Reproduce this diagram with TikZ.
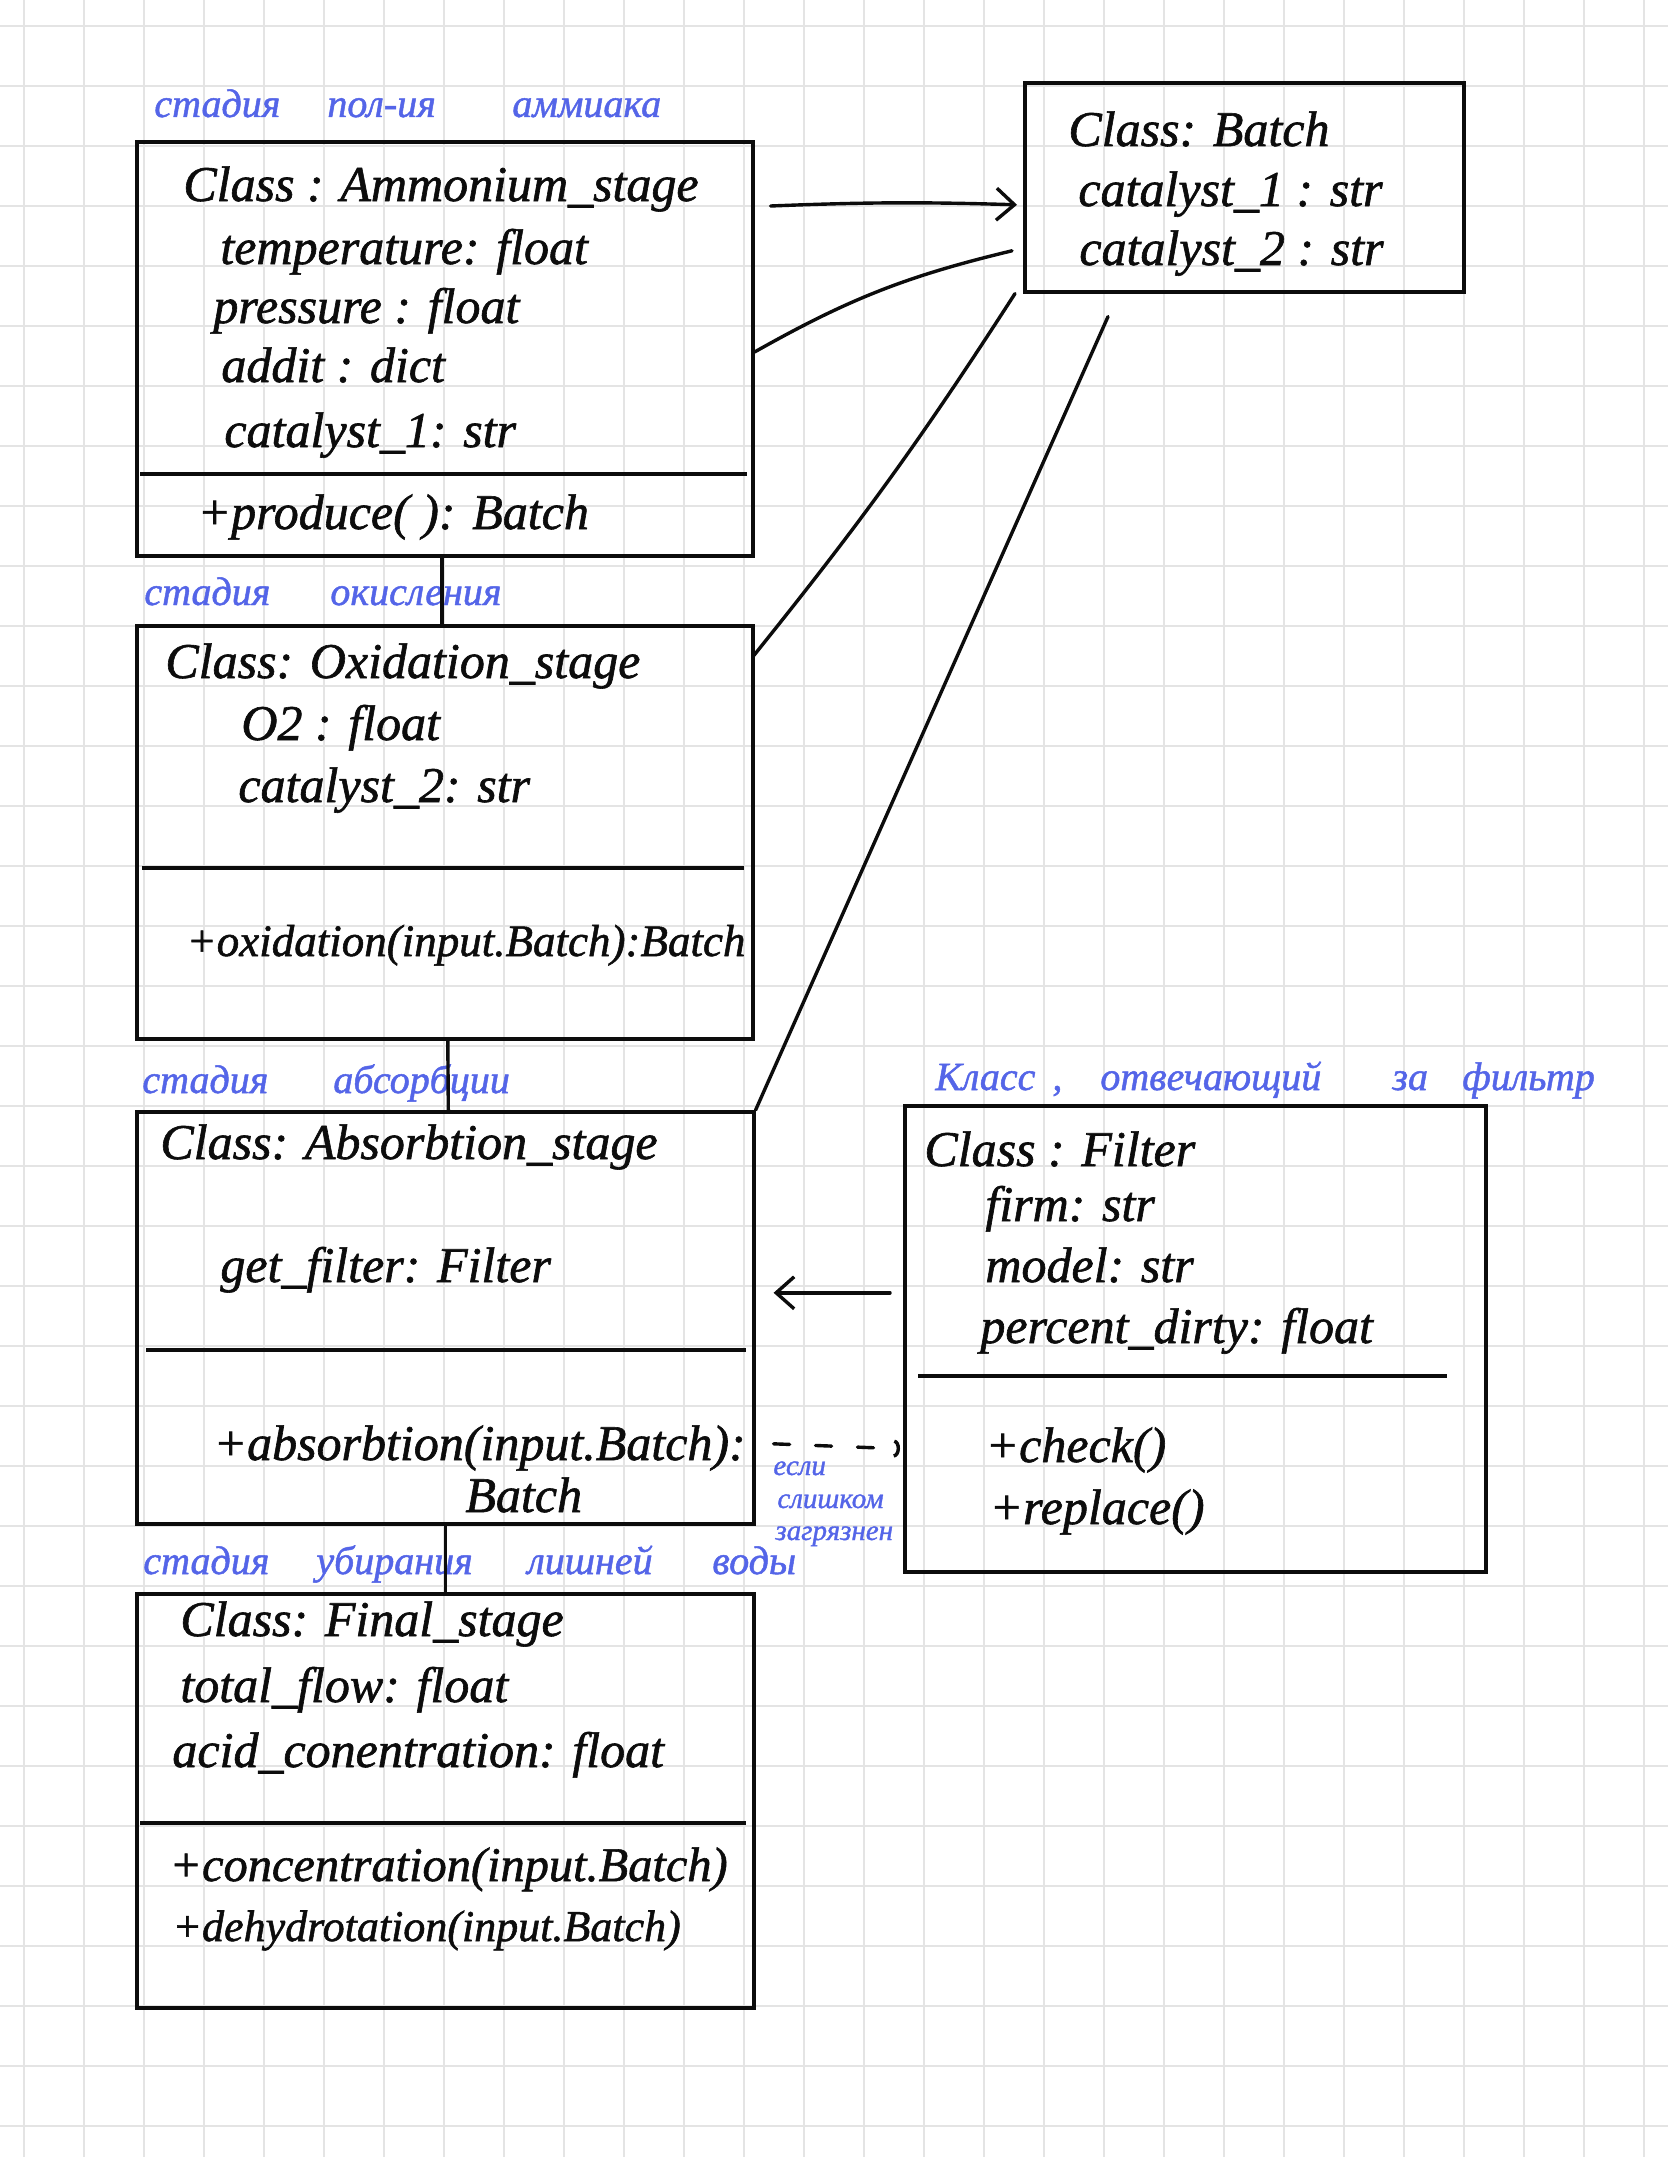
\documentclass[tikz,border=0pt]{standalone}
\usepackage{fontspec}
\setmainfont{Liberation Serif}[ItalicFeatures={FakeBold=1.2}]
\usetikzlibrary{arrows.meta,calc}
\definecolor{ink}{RGB}{12,12,12}
\definecolor{pen}{RGB}{84,101,232}
\definecolor{gridc}{RGB}{228,228,228}
\begin{document}
\begin{tikzpicture}[x=0.5pt,y=-0.5pt,
  classbox/.style={draw=ink,line width=1.8pt,anchor=north west,inner sep=0pt},
  rule/.style={draw=ink,line width=1.7pt},
  txt/.style={anchor=base west,inner sep=0pt,font=\fontsize{25}{30}\selectfont\itshape,text=ink},
  note/.style={anchor=base west,inner sep=0pt,font=\fontsize{20}{24}\selectfont\itshape,text=pen},
  tiny/.style={anchor=base west,inner sep=0pt,font=\fontsize{14.5}{16}\selectfont\itshape,text=pen},
  link/.style={draw=ink,line width=1.7pt,line cap=round},
  barb/.style={-{Straight Barb[length=9pt,width=16pt,line width=1.7pt]}},
  arcbarb/.style={-{Arc Barb[length=3pt,width=9pt,line width=1.7pt]}}
]
% paper and grid
\fill[white] (0,0) rectangle (1668,2157);
\useasboundingbox (0,0) rectangle (1668,2157);
\foreach \i in {0,...,27} \draw[gridc,line width=1pt] ({24+60*\i},0) -- ({24+60*\i},2157);
\foreach \j in {0,...,35} \draw[gridc,line width=1pt] (0,{26+60*\j}) -- (1668,{26+60*\j});

% class boxes
\node[classbox,minimum width=308pt,minimum height=207pt] (amm) at (135,140) {};
\node[classbox,minimum width=308pt,minimum height=206.5pt] (oxi) at (135,624) {};
\node[classbox,minimum width=308.5pt,minimum height=206pt] (abs) at (135,1110) {};
\node[classbox,minimum width=308.5pt,minimum height=207pt] (fin) at (135,1592) {};
\node[classbox,minimum width=219.5pt,minimum height=104.5pt] (batch) at (1023,81) {};
\node[classbox,minimum width=290.5pt,minimum height=233pt] (filter) at (903,1104) {};

% compartment dividers
\draw[rule] (140,474) -- (747,474);
\draw[rule] (142,868) -- (744,868);
\draw[rule] (146,1350) -- (746,1350);
\draw[rule] (140,1823) -- (746,1823);
\draw[rule] (918,1376) -- (1447,1376);

% Ammonium_stage
\node[txt] (a1) at (183,201) {Class : Ammonium\_stage};
\node[txt] (a2) at (220,264) {temperature: float};
\node[txt] (a3) at (213,323) {pressure : float};
\node[txt] (a4) at (221,382) {addit : dict};
\node[txt] (a5) at (224,447) {catalyst\_1: str};
\node[txt] (a6) at (197,529) {+produce( ): Batch};

% Oxidation_stage
\node[txt] (o1) at (165,678) {Class: Oxidation\_stage};
\node[txt] (o2) at (241,740) {O2 : float};
\node[txt] (o3) at (238,802) {catalyst\_2: str};
\node[txt,font=\fontsize{22.5}{27}\selectfont\itshape] (o4) at (186,956) {+oxidation(input.Batch):Batch};

% Absorbtion_stage
\node[txt] (b1) at (160,1159) {Class: Absorbtion\_stage};
\node[txt] (b2) at (220,1282) {get\_filter: Filter};
\node[txt] (b3) at (213,1460) {+absorbtion(input.Batch):};
\node[txt] (b4) at (465,1512) {Batch};

% Final_stage
\node[txt] (f1) at (180,1636) {Class: Final\_stage};
\node[txt] (f2) at (180,1702) {total\_flow: float};
\node[txt] (f3) at (172,1767) {acid\_conentration: float};
\node[txt,font=\fontsize{24.2}{29}\selectfont\itshape] (f4) at (169,1881) {+concentration(input.Batch)};
\node[txt,font=\fontsize{22}{27}\selectfont\itshape] (f5) at (172,1941) {+dehydrotation(input.Batch)};

% Batch
\node[txt] (c1) at (1068,146) {Class: Batch};
\node[txt] (c2) at (1078,206) {catalyst\_1 : str};
\node[txt] (c3) at (1079,265) {catalyst\_2 : str};

% Filter
\node[txt] (g1) at (924,1166) {Class : Filter};
\node[txt] (g2) at (985,1221) {firm: str};
\node[txt] (g3) at (985,1282) {model: str};
\node[txt] (g4) at (980,1343) {percent\_dirty: float};
\node[txt] (g5) at (985,1462) {+check()};
\node[txt] (g6) at (989,1524) {+replace()};

% stage captions
\node[note] (n11) at (154,117) {стадия};
\node[note] (n12) at (327,117) {пол-ия};
\node[note] (n13) at (512,117) {аммиака};
\node[note] (n21) at (144,605) {стадия};
\node[note] (n22) at (330,605) {окисления};
\node[note] (n31) at (142,1093) {стадия};
\node[note] (n32) at (333,1093) {абсорбции};
\node[note] (n41) at (935,1090) {Класс};
\node[note] (n42) at (1052,1090) {,};
\node[note] (n43) at (1100,1090) {отвечающий};
\node[note] (n44) at (1392,1090) {за};
\node[note] (n45) at (1462,1090) {фильтр};
\node[note] (n51) at (143,1574) {стадия};
\node[note] (n52) at (316,1574) {убирания};
\node[note] (n53) at (527,1574) {лишней};
\node[note] (n54) at (712,1574) {воды};
\node[tiny] (m1) at (773,1475) {если};
\node[tiny] (m2) at (777,1508) {слишком};
\node[tiny] (m3) at (775,1540) {загрязнен};

% stage chain
\draw[link] ([xshift=-1.5pt]amm.south) -- ([xshift=-1.5pt]oxi.north);
\draw[link] ([xshift=1.5pt]oxi.south) -- ([xshift=1.5pt]abs.north);
\draw[link] (abs.south) -- (fin.north);

% links to Batch
\draw[link,barb] ([xshift=8pt,yshift=-33pt]amm.north east) to[bend left=2] ([xshift=-3pt,yshift=-8.75pt]batch.west);
\draw[link] ([yshift=-106pt]amm.north east) to[bend left=8] ([xshift=-5.5pt,yshift=-31.75pt]batch.west);
\draw[link] ([xshift=-1pt,yshift=-16.5pt]oxi.north east) to[bend right=3] ([xshift=-4pt]batch.south west);
\draw[link] (abs.north east) -- ([xshift=42.5pt,yshift=-11.5pt]batch.south west);

% Filter to Absorbtion_stage
\draw[link,barb] ([xshift=-6.5pt,yshift=23pt]filter.west) -- ([xshift=9pt,yshift=12.5pt]abs.east);
\draw[link,arcbarb,dash pattern=on 8pt off 13pt] ([xshift=9pt,yshift=-63pt]abs.east) -- ([xshift=-1.5pt,yshift=-55pt]filter.west);
\end{tikzpicture}
\end{document}
